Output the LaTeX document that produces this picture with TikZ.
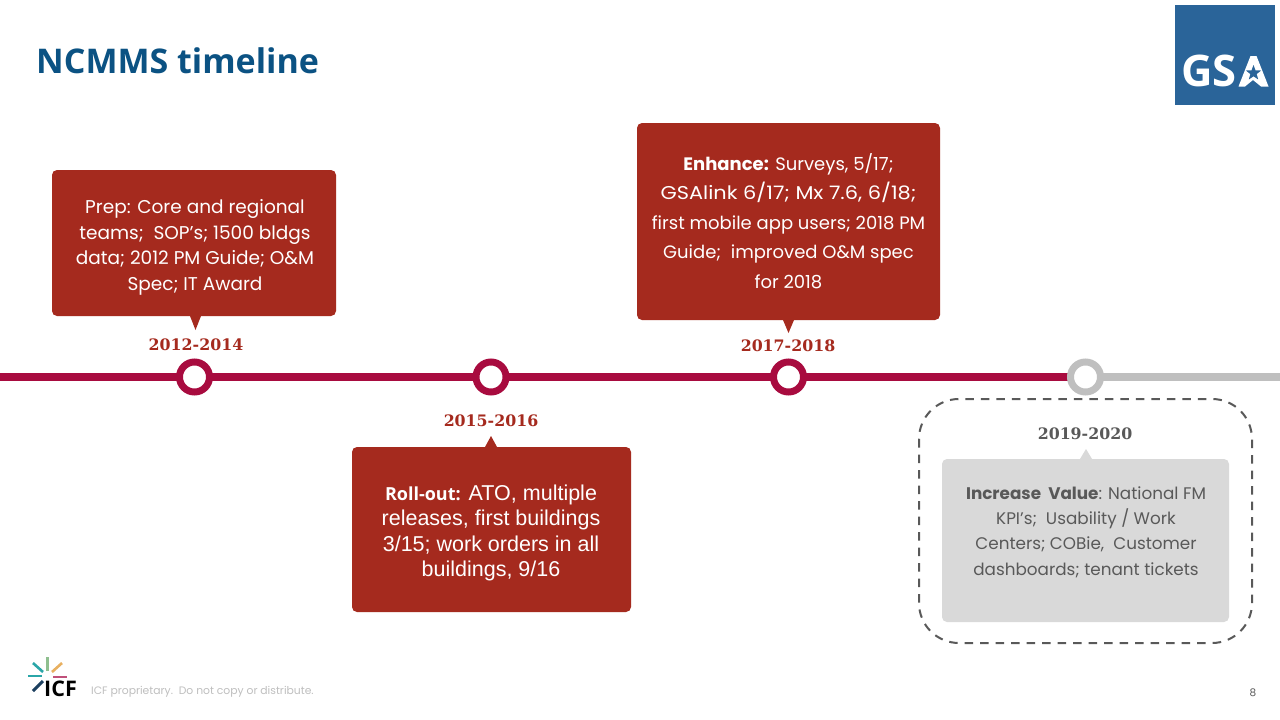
\documentclass[tikz,border=0pt]{standalone}
\usepackage{graphicx}
\usepackage{fontspec}
\usetikzlibrary{shapes.geometric}
\setmainfont{Poppins}
\newfontfamily\titlefont{Open Sans}
\newfontfamily\rob{Liberation Sans}
\newfontfamily\yearfont{DejaVu Serif}
\definecolor{brick}{HTML}{A52A1E}
\definecolor{crim}{HTML}{A80B3F}
\definecolor{greyline}{HTML}{BFBFBF}
\definecolor{greybox}{HTML}{D9D9D9}
\definecolor{dgrey}{HTML}{595959}
\definecolor{navy}{HTML}{0B5283}
\definecolor{gsablue}{HTML}{2A6499}
\tikzset{x=1pt,y=-1pt,
  box/.style={fill=brick,rounded corners=5pt},
  boxtext/.style={text=white,align=center,font=\fontsize{18.5}{25.5}\selectfont},
  tail/.style={fill=brick},
  year/.style={text=brick,font=\yearfont\bfseries\fontsize{15.8}{20}\selectfont},
  ring/.style={circle,draw=crim,line width=7pt,fill=white,minimum size=30pt,inner sep=0pt},
}
\begin{document}
\begin{tikzpicture}
\useasboundingbox (0,0) rectangle (1280,720);
\fill[white] (0,0) rectangle (1280,720);
\node[anchor=west,text=navy,inner sep=0pt,font=\titlefont\bfseries\fontsize{34}{40}\selectfont] (title) at (36,61) {NCMMS timeline};
% GSA logo
\fill[gsablue] (1175,5) rectangle (1275,105);
\node[anchor=west,inner sep=0pt,text=white,font=\titlefont\bfseries\fontsize{43.5}{48}\selectfont] (gsa) at (1181,71) {GS};
\fill[white] (1238.5,86.5) -- (1250.5,56) -- (1256.5,56) -- (1268.5,86.5) -- (1261,86.5) -- (1253,80) -- (1245,86.5) -- cycle;
\node[star,star points=5,star point ratio=2.4,fill=gsablue,minimum size=16pt,inner sep=0pt] (gsastar) at (1253.5,73) {};
% timeline
\fill[crim] (0,373) rectangle (1085,381);
\fill[greyline] (1085,373) rectangle (1280,381);
\node[ring] (r1) at (194.5,377) {};
\node[ring] (r2) at (491,377) {};
\node[ring] (r3) at (788.5,377) {};
\node[ring,draw=greyline] (r4) at (1085.5,377) {};
% boxes
\fill[tail] (190,316) -- (201,316) -- (195.5,330) -- cycle;
\fill[box] (52,170) rectangle (336,316);
\node[boxtext] (b1) at (195,247.5) {Prep: Core and regional\\teams;\ \ SOP’s; 1500 bldgs\\data; 2012 PM Guide; O\&M\\Spec; IT Award};
\node[year] (y1) at (196,345) {2012-2014};
\fill[tail] (783,320) -- (794,320) -- (788.5,333) -- cycle;
\fill[box] (637,123) rectangle (940,320);
\node[boxtext,font=\fontsize{18}{29.5}\selectfont] (b3) at (788.5,221) {\textbf{Enhance:} Surveys, 5/17;\\\scalebox{1.16}[1.03]{GSAlink 6/17; Mx 7.6, 6/18;}\\first mobile app users; 2018 PM\\Guide;\ \ improved O\&M spec\\for 2018};
\node[year] (y3) at (788,346) {2017-2018};
\fill[tail] (485,447) -- (497,447) -- (491,436) -- cycle;
\fill[box] (352,447) rectangle (631,612);
\node[boxtext,font=\rob\fontsize{21.5}{25.5}\selectfont] (b2) at (491,533) {{\titlefont\bfseries\fontsize{18}{25}\selectfont Roll-out:} ATO, multiple\\releases, first buildings\\3/15; work orders in all\\buildings, 9/16};
\node[year] (y2) at (491,421) {2015-2016};
% dashed group
\draw[dgrey,line width=2pt,dash pattern=on 8.5pt off 7pt,rounded corners=40pt] (919,399) rectangle (1252,643);
\fill[greybox] (1080,459) -- (1092,459) -- (1086,449) -- cycle;
\fill[greybox,rounded corners=5pt] (942,459) rectangle (1229,622);
\node[boxtext,text=dgrey,font=\fontsize{16.8}{25.3}\selectfont] (b4) at (1086,532) {\textbf{Increase\ \ Value}: National FM\\KPI's;\ \ Usability / Work\\Centers; COBie,\ \ Customer\\dashboards; tenant tickets};
\node[year,text=dgrey] (y4) at (1085,434) {2019-2020};
% ICF logo
\definecolor{icfteal}{HTML}{2AA6A8}
\definecolor{icfgreen}{HTML}{8FBF8F}
\definecolor{icforange}{HTML}{E8B060}
\definecolor{icfpink}{HTML}{C0507A}
\definecolor{icfdark}{HTML}{1C3F5F}
\begin{scope}[line width=2.6pt]
\draw[draw=icfteal] (33,663) -- (43,672);
\draw[draw=icfgreen] (47.5,657) -- (47.5,671);
\draw[draw=icforange] (52,672) -- (62,663);
\draw[draw=icfpink,line width=1.6pt] (53,677) -- (67,677);
\draw[draw=icfteal] (28,676) -- (42,676);
\draw[draw=icfdark,line width=3pt] (33,691) -- (43,681);
\end{scope}
\node[anchor=west,inner sep=0pt,font=\titlefont\bfseries\fontsize{21.5}{22}\selectfont] (icf) at (44,689) {ICF};
\node[anchor=west,inner sep=0pt,text=black!25,font=\fontsize{10.8}{12}\selectfont] (foot) at (91,692) {ICF proprietary.\ \ Do not copy or distribute.};
\node[text=dgrey,font=\fontsize{10.5}{12}\selectfont] (pg) at (1253,693) {8};
\end{tikzpicture}
\end{document}
